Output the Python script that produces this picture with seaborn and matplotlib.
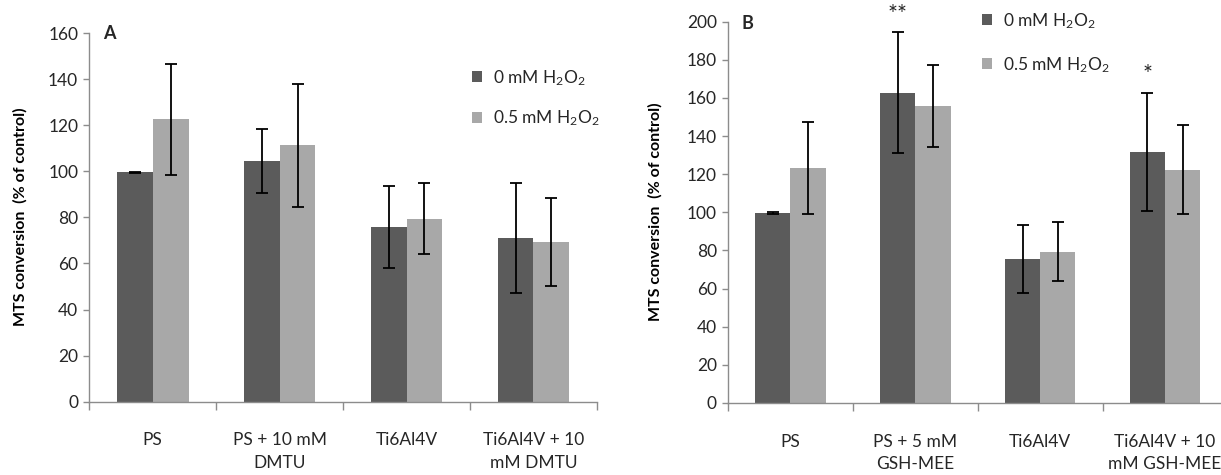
import numpy as np
import pandas as pd
import matplotlib
matplotlib.use("Agg")
import matplotlib.pyplot as plt
import seaborn as sns
from matplotlib.patches import Patch

# ---------------- data ----------------
cats_a = ["PS", "PS + 10 mM\nDMTU", "Ti6Al4V", "Ti6Al4V + 10\nmM DMTU"]
cats_b = ["PS", "PS + 5 mM\nGSH-MEE", "Ti6Al4V", "Ti6Al4V + 10\nmM GSH-MEE"]
series = ["0 mM H$_2$O$_2$", "0.5 mM H$_2$O$_2$"]

a_0mM = [99.5, 104.5, 75.8, 71.0]
a_0mM_err = [0.3, 13.8, 17.7, 24.0]
a_05mM = [122.5, 111.2, 79.5, 69.3]
a_05mM_err = [24.0, 26.5, 15.4, 19.3]

b_0mM = [99.7, 162.7, 75.6, 131.8]
b_0mM_err = [0.4, 31.7, 17.8, 31.0]
b_05mM = [123.3, 155.9, 79.3, 122.3]
b_05mM_err = [24.0, 21.5, 15.5, 23.3]

# significance marks: (category index, y value, text)
b_marks = [(1, 204.0, "**"), (3, 172.5, "*")]

# ---------------- style ----------------
sns.set_theme(style="white")
plt.rcParams["font.family"] = ["Lato", "DejaVu Sans"]
plt.rcParams["mathtext.fontset"] = "custom"
plt.rcParams["mathtext.rm"] = "Lato"
plt.rcParams["mathtext.it"] = "Lato:italic"
plt.rcParams["mathtext.bf"] = "Lato:bold"

DARK = "#5b5b5b"
LIGHT = "#a8a8a8"
AXC = "#8c8c8c"
TXT = "#262626"
palette = {series[0]: DARK, series[1]: LIGHT}

fig = plt.figure(figsize=(12.21, 4.75), dpi=100)
ax_a = fig.add_axes([0.0731, 0.1543, 0.4158, 0.7762])
ax_b = fig.add_axes([0.5962, 0.1516, 0.4091, 0.8027])


def make_df(cats, v0, e0, v1, e1):
    rows = []
    for c, a, ea, b, eb in zip(cats, v0, e0, v1, e1):
        rows.append({"cat": c, "series": series[0], "val": a, "err": ea})
        rows.append({"cat": c, "series": series[1], "val": b, "err": eb})
    return pd.DataFrame(rows)


def draw(ax, cats, v0, e0, v1, e1, ymax, letter, letter_y, leg_anchor, leg_spacing):
    df = make_df(cats, v0, e0, v1, e1)
    sns.barplot(data=df, x="cat", y="val", hue="series", order=cats,
                hue_order=series, palette=palette, width=0.565,
                errorbar=None, saturation=1, ax=ax, legend=False,
                linewidth=0)
    # error bars on top of each bar from the bar patches
    errs = [e0, e1]
    vals = [v0, v1]
    bar_conts = list(ax.containers)
    for k, cont in enumerate(bar_conts):
        xs = [p.get_x() + p.get_width() / 2 for p in cont.patches]
        ax.errorbar(xs, vals[k], yerr=errs[k], fmt="none", ecolor="black",
                    elinewidth=1.3, capsize=4.2, capthick=1.3, zorder=5)
    ax.set_xlim(-0.5, 3.5)
    ax.set_ylim(0, ymax)
    ax.set_yticks(np.arange(0, ymax + 1, 20))
    ax.set_xlabel("")
    ax.set_ylabel("")
    for s in ["top", "right"]:
        ax.spines[s].set_visible(False)
    for s in ["left", "bottom"]:
        ax.spines[s].set_color(AXC)
        ax.spines[s].set_linewidth(1.0)
    ax.tick_params(axis="y", which="major", direction="out", length=4.5,
                   width=1.0, color=AXC, pad=3.5, labelsize=12.5,
                   labelcolor=TXT, left=True)
    ax.set_xticks([-0.5, 0.5, 1.5, 2.5, 3.5], minor=True)
    ax.tick_params(axis="x", which="minor", direction="out", length=6,
                   width=1.0, color=AXC, bottom=True)
    ax.tick_params(axis="x", which="major", length=0, pad=22,
                   labelsize=12.5, labelcolor=TXT)
    for lab in ax.get_xticklabels():
        lab.set_linespacing(1.5)
    ax.text(-0.39, letter_y, letter, fontsize=13, fontweight="bold",
            color=TXT, ha="left", va="center")
    handles = [Patch(facecolor=palette[s], edgecolor="none", label=s)
               for s in series]
    ax.legend(handles=handles, loc="upper left", bbox_to_anchor=leg_anchor,
              bbox_transform=fig.transFigure, frameon=False, fontsize=12.5,
              handlelength=0.6, handleheight=0.6, handletextpad=0.6,
              labelspacing=leg_spacing, borderpad=0, borderaxespad=0,
              labelcolor=TXT)
    return bar_conts


conts_a = draw(ax_a, cats_a, a_0mM, a_0mM_err, a_05mM, a_05mM_err, 160, "A", 160,
               (472 / 1221, 1 - 68 / 475), 1.2)
conts_b = draw(ax_b, cats_b, b_0mM, b_0mM_err, b_05mM, b_05mM_err, 200, "B", 199,
               (982 / 1221, 1 - 11 / 475), 1.4)

# significance marks above the 0 mM bars in panel B
xs_b = [p.get_x() + p.get_width() / 2 for p in conts_b[0].patches]
for i, y, t in b_marks:
    ax_b.text(xs_b[i], y, t, ha="center", va="center", fontsize=17,
              color=TXT, clip_on=False)

ylab = "MTS conversion  (% of control)"
fig.text(20 / 1221, 1 - 217 / 475, ylab, rotation=90, ha="center",
         va="center", fontsize=11.5, fontweight="bold", color="black")
fig.text(655 / 1221, 1 - 212 / 475, ylab, rotation=90, ha="center",
         va="center", fontsize=11.5, fontweight="bold", color="black")

fig.savefig("out.png", dpi=100, facecolor="white")
